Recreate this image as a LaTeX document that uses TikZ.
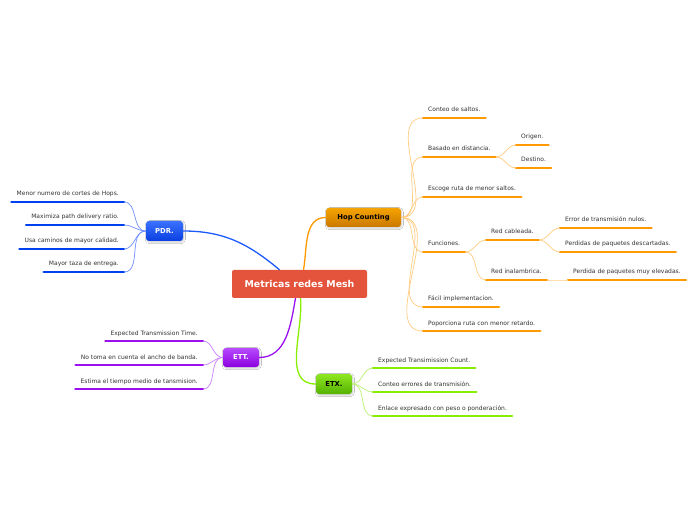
\documentclass[tikz,border=0pt]{standalone}
\usepackage{fontspec}
\setsansfont{DejaVu Sans}
\usepackage{tikz}
\usetikzlibrary{positioning, shadows.blur}
\definecolor{centralred}{HTML}{E4533B}
\definecolor{leaftext}{HTML}{333333}
\definecolor{hopcolor}{HTML}{FF9900}
\definecolor{hoplight}{HTML}{FFCC80}
\definecolor{hoptop}{HTML}{F5A300}
\definecolor{hopbottom}{HTML}{C97800}
\definecolor{pdrcolor}{HTML}{1E5BFF}
\definecolor{pdrbar}{HTML}{0040F0}
\definecolor{pdrlight}{HTML}{7090FF}
\definecolor{pdrtop}{HTML}{3B72FF}
\definecolor{pdrbottom}{HTML}{0A3FE0}
\definecolor{ettcolor}{HTML}{9B10F0}
\definecolor{ettlight}{HTML}{C880FF}
\definecolor{etttop}{HTML}{B84BFF}
\definecolor{ettbottom}{HTML}{8A00DD}
\definecolor{etxcolor}{HTML}{88EE00}
\definecolor{etxlight}{HTML}{B8F070}
\definecolor{etxtop}{HTML}{8EE820}
\definecolor{etxbottom}{HTML}{55B000}

\begin{document}
\begin{tikzpicture}[
  x=1pt, y=1pt,
  font=\sffamily\fontsize{6}{7}\selectfont,
  mapcentral/.style={fill=centralred, rounded corners=2pt, text=white, inner sep=0pt,
    font=\sffamily\bfseries\fontsize{9.4}{11}\selectfont, minimum width=135pt, minimum height=28pt},
  mapbranch/.style 2 args={top color=#1, bottom color=#2, rounded corners=3pt, inner sep=0pt,
    font=\sffamily\bfseries\fontsize{6.8}{8}\selectfont,
    blur shadow={shadow xshift=0.8pt, shadow yshift=-1.2pt, shadow blur steps=6, shadow blur radius=1.5pt, shadow opacity=20}},
  mapleaf/.style={inner xsep=5pt, inner ysep=4.3pt, text height=4.5pt, text depth=1.5pt, text=leaftext,
    append after command={(\tikzlastnode.south west) edge[draw=#1, line width=2.7pt, line cap=round] (\tikzlastnode.south east)}},
  mainlink/.style={draw=#1, line width=1.3pt},
  leaflink/.style={draw=#1, line width=0.7pt}
]
\fill[white] (0,0) rectangle (696,520);
\useasboundingbox (0,0) rectangle (696,520);

\node[mapcentral] (central) at (299.5,236) {Metricas redes Mesh};
\node[mapbranch={hoptop}{hopbottom}, minimum width=75pt, minimum height=19pt] (hop) at (363.5,302.5) {Hop Counting};
\node[mapbranch={pdrtop}{pdrbottom}, text=white, minimum width=37pt, minimum height=20pt] (pdr) at (164.5,289) {PDR.};
\node[mapbranch={etttop}{ettbottom}, text=white, minimum width=36pt, minimum height=19pt] (ett) at (241,162.5) {ETT.};
\node[mapbranch={etxtop}{etxbottom}, minimum width=36pt, minimum height=20pt] (etx) at (334,136) {ETX.};

\draw[mainlink=pdrcolor] (pdr.east) to[out=0, in=140] ([xshift=-20pt]central.north);
\draw[mainlink=hopcolor] ([xshift=4pt]central.north) to[out=80, in=180] (hop.west);
\draw[mainlink=ettcolor] ([xshift=-4pt]central.south) to[out=-100, in=0] (ett.east);
\draw[mainlink=etxcolor] ([xshift=1pt]central.south) to[out=-85, in=180] (etx.west);

\node[mapleaf=hopcolor, anchor=south west] (conteo) at (423,402) {Conteo de saltos.};
\node[mapleaf=hopcolor, anchor=south west] (basado) at (423,363) {Basado en distancia.};
\node[mapleaf=hopcolor, anchor=south west] (origen) at (516,375) {Origen.};
\node[mapleaf=hopcolor, anchor=south west] (destino) at (516,352) {Destino.};
\node[mapleaf=hopcolor, anchor=south west] (escoge) at (423,323) {Escoge ruta de menor saltos.};
\node[mapleaf=hopcolor, anchor=south west] (funciones) at (423,268) {Funciones.};
\node[mapleaf=hopcolor, anchor=south west] (cableada) at (486,280) {Red cableada.};
\node[mapleaf=hopcolor, anchor=south west] (errornulo) at (560,292) {Error de transmisión nulos.};
\node[mapleaf=hopcolor, anchor=south west] (descartadas) at (560,268) {Perdidas de paquetes descartadas.};
\node[mapleaf=hopcolor, anchor=south west] (inalambrica) at (486,240) {Red inalambrica.};
\node[mapleaf=hopcolor, anchor=south west] (elevadas) at (568,240) {Perdida de paquetes muy elevadas.};
\node[mapleaf=hopcolor, anchor=south west] (facil) at (423,213) {Fácil implementacion.};
\node[mapleaf=hopcolor, anchor=south west] (retardo) at (423,189) {Poporciona ruta con menor retardo.};

\node[mapleaf=pdrbar, anchor=south east] (cortes) at (124,318) {Menor numero de cortes de Hops.};
\node[mapleaf=pdrbar, anchor=south east] (maximiza) at (124,295) {Maximiza path delivery ratio.};
\node[mapleaf=pdrbar, anchor=south east] (caminos) at (124,271) {Usa caminos de mayor calidad.};
\node[mapleaf=pdrbar, anchor=south east] (entrega) at (124,248) {Mayor taza de entrega.};

\node[mapleaf=ettcolor, anchor=south east] (transtime) at (203,179) {Expected Transmission Time.};
\node[mapleaf=ettcolor, anchor=south east] (anchobanda) at (203,155) {No toma en cuenta el ancho de banda.};
\node[mapleaf=ettcolor, anchor=south east] (tiempo) at (203,131) {Estima el tiempo medio de tansmision.};

\node[mapleaf=etxcolor, anchor=south west] (transcount) at (373,152) {Expected Transimission Count.};
\node[mapleaf=etxcolor, anchor=south west] (errores) at (373,128) {Conteo errores de transmisión.};
\node[mapleaf=etxcolor, anchor=south west] (enlace) at (373,104) {Enlace expresado con peso o ponderación.};

\foreach \leafname in {conteo, basado, escoge, funciones, facil, retardo}
  \draw[leaflink=hoplight] (hop.east) to[out=0, in=180] (\leafname.south west);
\foreach \leafname in {origen, destino}
  \draw[leaflink=hoplight] (basado.south east) to[out=0, in=180] (\leafname.south west);
\foreach \leafname in {cableada, inalambrica}
  \draw[leaflink=hoplight] (funciones.south east) to[out=0, in=180] (\leafname.south west);
\foreach \leafname in {errornulo, descartadas}
  \draw[leaflink=hoplight] (cableada.south east) to[out=0, in=180] (\leafname.south west);
\draw[leaflink=hoplight] (inalambrica.south east) to[out=0, in=180] (elevadas.south west);

\foreach \leafname in {cortes, maximiza, caminos, entrega}
  \draw[leaflink=pdrlight] (pdr.west) to[out=180, in=0] (\leafname.south east);
\foreach \leafname in {transtime, anchobanda, tiempo}
  \draw[leaflink=ettlight] (ett.west) to[out=180, in=0] (\leafname.south east);
\foreach \leafname in {transcount, errores, enlace}
  \draw[leaflink=etxlight] (etx.east) to[out=0, in=180] (\leafname.south west);
\end{tikzpicture}
\end{document}
